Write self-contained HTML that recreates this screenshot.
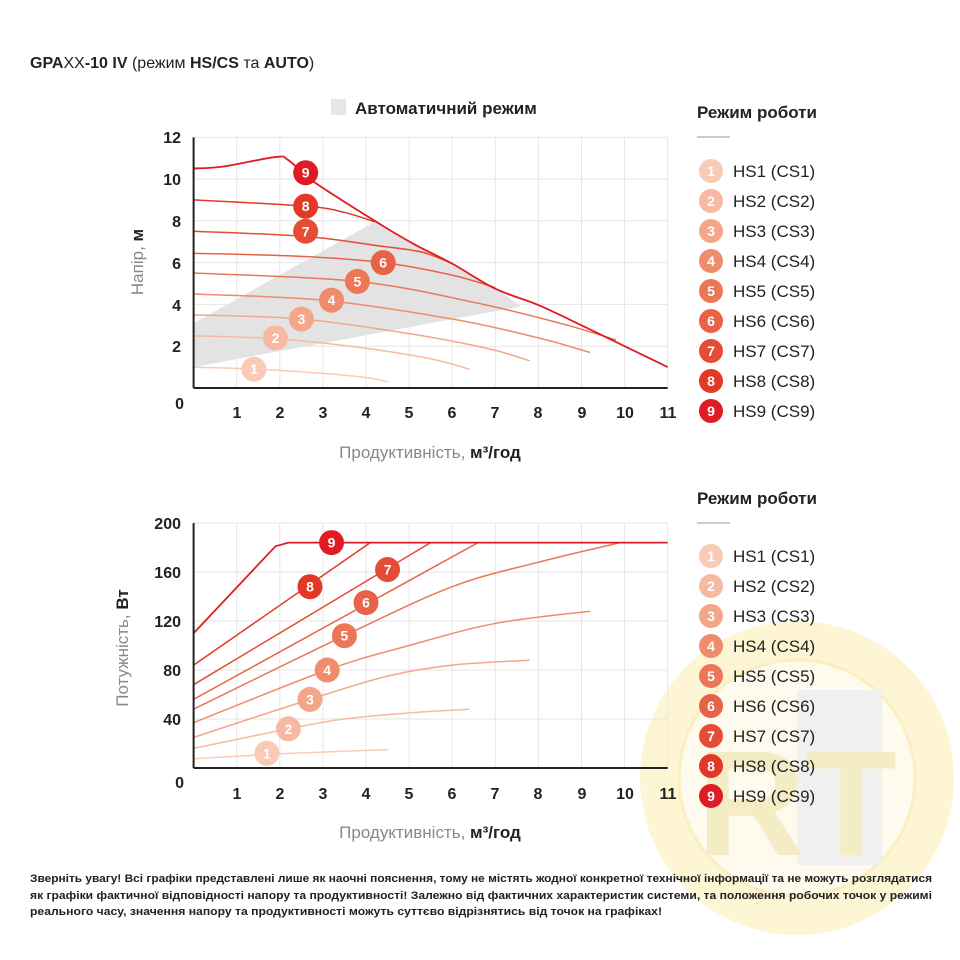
<!DOCTYPE html>
<html><head><meta charset="utf-8"><style>
html,body{margin:0;padding:0;background:#fff;}
svg{display:block;font-family:"Liberation Sans","DejaVu Sans",sans-serif;}
</style></head><body>
<svg id="s" width="960" height="960" viewBox="0 0 960 960" xmlns="http://www.w3.org/2000/svg">
<g opacity="0.45">
<circle cx="797" cy="778" r="157" fill="#fbe9a0"/>
<circle cx="797" cy="778" r="118" fill="#fdf6d8" stroke="#f3dc7a" stroke-width="3"/>
<rect x="797" y="690" width="85" height="175" fill="#e0e0e0"/>
<text x="797" y="855" text-anchor="middle" font-size="150" font-weight="bold" fill="#e8d680">RT</text>
</g>
<text x="30" y="68" font-size="16" fill="#222"><tspan font-weight="bold">GPA</tspan>XX<tspan font-weight="bold">-10 IV</tspan> (режим <tspan font-weight="bold">HS/CS</tspan> та <tspan font-weight="bold">AUTO</tspan>)</text>
<rect x="331" y="99" width="15" height="16" fill="#e6e6e6"/>
<text x="355" y="114" font-size="17" font-weight="bold" fill="#222">Автоматичний режим</text>
<g id="gtop"></g><g id="gbot"></g>
<g font-size="16" font-weight="bold" fill="#222" text-anchor="end">
<text x="181" y="143">12</text><text x="181" y="185">10</text><text x="181" y="227">8</text><text x="181" y="269">6</text><text x="181" y="311">4</text><text x="181" y="352">2</text><text x="184" y="409">0</text>
</g>
<g font-size="16" font-weight="bold" fill="#222" text-anchor="middle">
<text x="237" y="418">1</text><text x="280" y="418">2</text><text x="323" y="418">3</text><text x="366" y="418">4</text><text x="409" y="418">5</text><text x="452" y="418">6</text><text x="495" y="418">7</text><text x="538" y="418">8</text><text x="582" y="418">9</text><text x="625" y="418">10</text><text x="668" y="418">11</text>
</g>
<text transform="translate(143,262) rotate(-90)" text-anchor="middle" font-size="17" fill="#888">Напір, <tspan font-weight="bold" fill="#222">м</tspan></text>
<text x="430" y="458" text-anchor="middle" font-size="17" fill="#888">Продуктивність, <tspan font-weight="bold" fill="#222">м³/год</tspan></text>
<g font-size="16" font-weight="bold" fill="#222" text-anchor="end">
<text x="181" y="529">200</text><text x="181" y="578">160</text><text x="181" y="627">120</text><text x="181" y="676">80</text><text x="181" y="725">40</text><text x="184" y="788">0</text>
</g>
<g font-size="16" font-weight="bold" fill="#222" text-anchor="middle">
<text x="237" y="799">1</text><text x="280" y="799">2</text><text x="323" y="799">3</text><text x="366" y="799">4</text><text x="409" y="799">5</text><text x="452" y="799">6</text><text x="495" y="799">7</text><text x="538" y="799">8</text><text x="582" y="799">9</text><text x="625" y="799">10</text><text x="668" y="799">11</text>
</g>
<text transform="translate(128,648) rotate(-90)" text-anchor="middle" font-size="17" fill="#888">Потужність, <tspan font-weight="bold" fill="#222">Вт</tspan></text>
<text x="430" y="838" text-anchor="middle" font-size="17" fill="#888">Продуктивність, <tspan font-weight="bold" fill="#222">м³/год</tspan></text>
<text x="697" y="118" font-size="17" font-weight="bold" fill="#222">Режим роботи</text>
<line x1="697" y1="137" x2="730" y2="137" stroke="#999" stroke-width="1"/>
<text x="697" y="504" font-size="17" font-weight="bold" fill="#222">Режим роботи</text>
<line x1="697" y1="523" x2="730" y2="523" stroke="#999" stroke-width="1"/>
<g font-size="17" fill="#222">
<text x="733" y="177">HS1 (CS1)</text><text x="733" y="207">HS2 (CS2)</text><text x="733" y="237">HS3 (CS3)</text><text x="733" y="267">HS4 (CS4)</text><text x="733" y="297">HS5 (CS5)</text><text x="733" y="327">HS6 (CS6)</text><text x="733" y="357">HS7 (CS7)</text><text x="733" y="387">HS8 (CS8)</text><text x="733" y="417">HS9 (CS9)</text>
<text x="733" y="562">HS1 (CS1)</text><text x="733" y="592">HS2 (CS2)</text><text x="733" y="622">HS3 (CS3)</text><text x="733" y="652">HS4 (CS4)</text><text x="733" y="682">HS5 (CS5)</text><text x="733" y="712">HS6 (CS6)</text><text x="733" y="742">HS7 (CS7)</text><text x="733" y="772">HS8 (CS8)</text><text x="733" y="802">HS9 (CS9)</text>
</g>
<g id="circ"></g>
<g id="nums" font-size="14" font-weight="bold" fill="#fff" text-anchor="middle">
<text x="305.7" y="177.7">9</text><text x="305.7" y="211.2">8</text><text x="305.7" y="236.3">7</text><text x="383.2" y="267.6">6</text><text x="357.4" y="286.4">5</text><text x="331.5" y="305.2">4</text><text x="301.4" y="324">3</text><text x="275.5" y="342.8">2</text><text x="254" y="374.2">1</text>
<text x="331.5" y="547.6">9</text><text x="310" y="591.7">8</text><text x="387.6" y="574.5">7</text><text x="366" y="607.6">6</text><text x="344.4" y="640.7">5</text><text x="327.2" y="675">4</text><text x="310" y="704.4">3</text><text x="288.4" y="733.8">2</text><text x="266.9" y="758.3">1</text>
<text x="711" y="176">1</text><text x="711" y="206">2</text><text x="711" y="236">3</text><text x="711" y="266">4</text><text x="711" y="296">5</text><text x="711" y="326">6</text><text x="711" y="356">7</text><text x="711" y="386">8</text><text x="711" y="416">9</text>
<text x="711" y="561">1</text><text x="711" y="591">2</text><text x="711" y="621">3</text><text x="711" y="651">4</text><text x="711" y="681">5</text><text x="711" y="711">6</text><text x="711" y="741">7</text><text x="711" y="771">8</text><text x="711" y="801">9</text>
</g>
<g font-size="11" font-weight="bold" fill="#222">
<text x="30" y="882" textLength="902" lengthAdjust="spacingAndGlyphs">Зверніть увагу! Всі графіки представлені лише як наочні пояснення, тому не містять жодної конкретної технічної інформації та не можуть розглядатися</text>
<text x="30" y="899" textLength="902" lengthAdjust="spacingAndGlyphs">як графіки фактичної відповідності напору та продуктивності! Залежно від фактичних характеристик системи, та положення робочих точок у режимі</text>
<text x="30" y="915" textLength="632" lengthAdjust="spacingAndGlyphs">реального часу, значення напору та продуктивності можуть суттєво відрізнятись від точок на графіках!</text>
</g>
</svg>
<script>
(function(){
var NS="http://www.w3.org/2000/svg";
function el(p,t,a){var e=document.createElementNS(NS,t);for(var k in a)e.setAttribute(k,a[k]);p.appendChild(e);return e;}
var cols=["#f9cab6","#f7b9a1","#f4a68a","#ef8c6c","#eb7757","#e86247","#e54c35","#e23826","#df1c24"];
function X(q){return 193.6+43.1*q;}
function YT(h){return 388-20.9*h;}
function YB(p){return 768-1.225*p;}
function path(pts){var d="M"+pts[0][0]+","+pts[0][1];for(var i=0;i<pts.length-1;i++){var p0=pts[i-1]||pts[i],p1=pts[i],p2=pts[i+1],p3=pts[i+2]||p2;var c1=[p1[0]+(p2[0]-p0[0])/6,p1[1]+(p2[1]-p0[1])/6],c2=[p2[0]-(p3[0]-p1[0])/6,p2[1]-(p3[1]-p1[1])/6];d+=" C"+c1.join(",")+" "+c2.join(",")+" "+p2.join(",");}return d;}
function grid(g,Y,vals){for(var q=1;q<=11;q++)el(g,"line",{x1:X(q),y1:Y(vals[vals.length-1]),x2:X(q),y2:Y(0),stroke:"#e6e6e6","stroke-width":1});vals.forEach(function(v){el(g,"line",{x1:X(0),y1:Y(v),x2:X(11),y2:Y(v),stroke:"#e6e6e6","stroke-width":1});});}
var gT=document.getElementById("gtop"),gB=document.getElementById("gbot");
grid(gT,YT,[2,4,6,8,10,12]);
var ap=[[0,1.0],[0,3.1],[4.2,7.95],[5,7.0],[6,5.95],[7,4.8],[7.6,3.9]].map(function(p){return X(p[0])+","+YT(p[1]);});
el(gT,"polygon",{points:ap.join(" "),fill:"#e3e3e3"});
var T=[
[[0,1.0],[1.5,0.9],[3,0.7],[4,0.5],[4.5,0.3]],
[[0,2.5],[2,2.35],[4,1.9],[5.5,1.4],[6.4,0.9]],
[[0,3.5],[2.5,3.3],[5,2.6],[6.8,1.9],[7.8,1.3]],
[[0,4.5],[3,4.2],[6,3.3],[8,2.4],[9.2,1.7]],
[[0,5.5],[3.8,5.1],[6.5,4.1],[8.5,3.1],[9.8,2.3]],
[[0,6.45],[2.5,6.3],[4.4,6.0],[6,5.4],[7,4.8]],
[[0,7.5],[2.6,7.25],[4.3,6.8],[5.3,6.5],[6,5.95]],
[[0,9.0],[2.6,8.7],[3.5,8.4],[4.2,7.95]],
[[0,10.5],[0.7,10.6],[1.9,11.05],[2.2,10.9],[2.8,9.85],[4.2,8.0],[5.1,6.9],[6,5.95],[7,4.75],[8,3.97],[9,3.0],[10,2.0],[11,1.0]]
];
T.forEach(function(c,i){el(gT,"path",{d:path(c.map(function(p){return [X(p[0]),YT(p[1])];})),fill:"none",stroke:cols[i],"stroke-width":i==8?1.8:1.5});});
el(gT,"line",{x1:X(0),y1:YT(0),x2:X(11),y2:YT(0),stroke:"#222","stroke-width":2});
el(gT,"line",{x1:X(0),y1:YT(0),x2:X(0),y2:YT(12),stroke:"#222","stroke-width":2});
grid(gB,YB,[40,80,120,160,200]);
var B=[
[[0,7.5],[1.7,11],[3,13],[4.5,15]],
[[0,16],[2.2,32],[3.5,40],[5,45],[6.4,48]],
[[0,25],[2.7,56],[4.5,75],[6,84],[7.8,88]],
[[0,37],[3.1,80],[5,100],[7,118],[9.2,128]],
[[0,48],[3.5,108],[6,148],[8,168],[9.9,184]],
[[0,56],[6.6,184]],
[[0,68],[5.5,184]],
[[0,84],[4.1,184]],
[[0,110],[1.9,181],[2.2,184],[11,184]]
];
B.forEach(function(c,i){var pts=c.map(function(p){return [X(p[0]),YB(p[1])];});var d=(c.length==2||i==8)?"M"+pts.map(function(p){return p.join(",");}).join(" L"):path(pts);el(gB,"path",{d:d,fill:"none",stroke:cols[i],"stroke-width":i==8?1.8:1.5});});
el(gB,"line",{x1:X(0),y1:YB(0),x2:X(11),y2:YB(0),stroke:"#222","stroke-width":2});
el(gB,"line",{x1:X(0),y1:YB(0),x2:X(0),y2:YB(200),stroke:"#222","stroke-width":2});
var circ=document.getElementById("circ");
var tl=[[2.6,10.3],[2.6,8.7],[2.6,7.5],[4.4,6.0],[3.8,5.1],[3.2,4.2],[2.5,3.3],[1.9,2.4],[1.4,0.9]];
var bl=[[3.2,184],[2.7,148],[4.5,162],[4.0,135],[3.5,108],[3.1,80],[2.7,56],[2.2,32],[1.7,12]];
for(var k=0;k<9;k++){var i=8-k;
el(circ,"circle",{cx:X(tl[k][0]),cy:YT(tl[k][1]),r:12.5,fill:cols[i]});
el(circ,"circle",{cx:X(bl[k][0]),cy:YB(bl[k][1]),r:12.5,fill:cols[i]});}
for(var j=0;j<9;j++){el(circ,"circle",{cx:711,cy:171+30*j,r:12,fill:cols[j]});el(circ,"circle",{cx:711,cy:556+30*j,r:12,fill:cols[j]});}
})();
</script>
</body></html>
